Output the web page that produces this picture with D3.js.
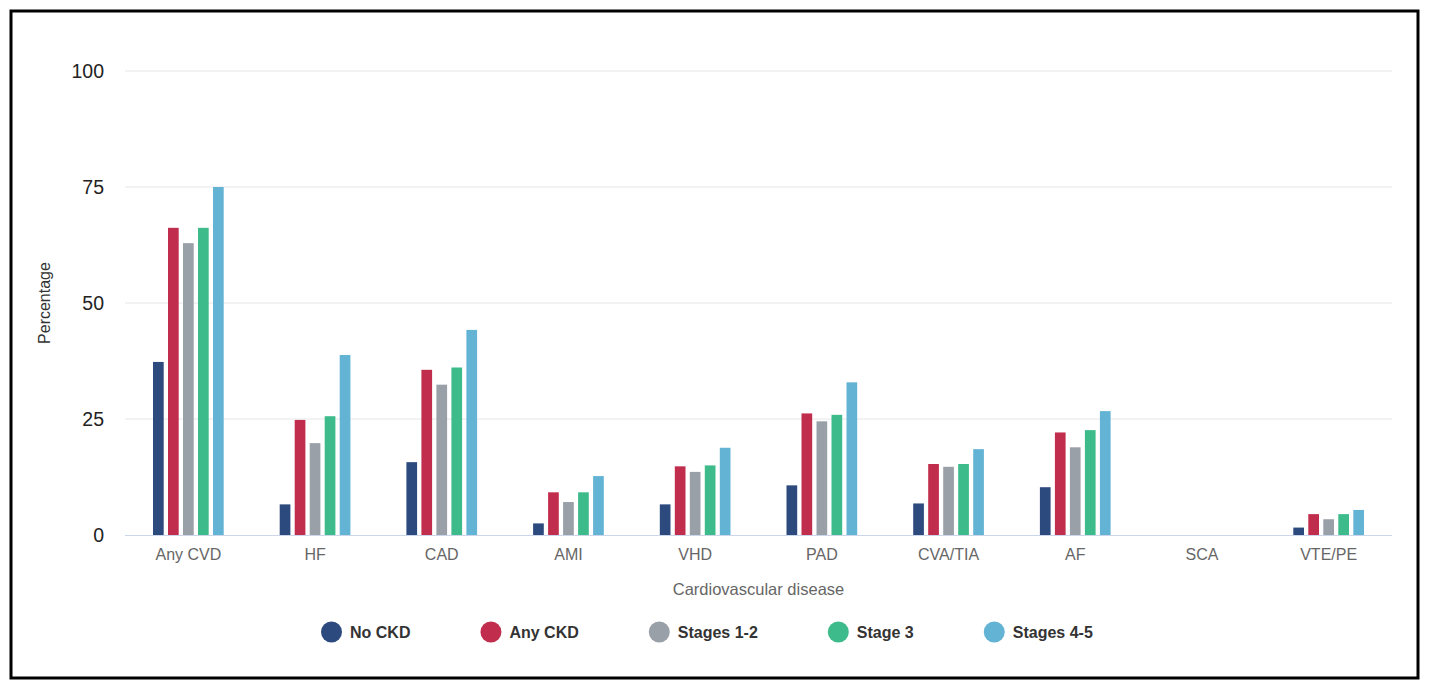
<!DOCTYPE html>
<html>
<head>
<meta charset="utf-8">
<script src="https://cdn.jsdelivr.net/npm/d3@7"></script>
<style>
  body { margin: 0; background: #fff; }
  svg { display: block; font-family: "Liberation Sans", Arial, sans-serif; }
</style>
</head>
<body>
<svg id="chart" width="1429" height="687"></svg>
<script>
// data
const categories = ["Any CVD", "HF", "CAD", "AMI", "VHD", "PAD", "CVA/TIA", "AF", "SCA", "VTE/PE"];
const seriesNames = ["No CKD", "Any CKD", "Stages 1-2", "Stage 3", "Stages 4-5"];
const seriesColors = ["#2d4a7e", "#c12d4d", "#9aa0a8", "#3dbb8b", "#62b3d4"];
const noCKD     = [37.3,  6.6, 15.7,  2.5,  6.6, 10.7,  6.8, 10.3, null, 1.6];
const anyCKD    = [66.2, 24.8, 35.6,  9.2, 14.8, 26.2, 15.3, 22.1, null, 4.5];
const stages12  = [62.9, 19.8, 32.4,  7.1, 13.6, 24.5, 14.7, 18.9, null, 3.4];
const stage3    = [66.2, 25.6, 36.1,  9.2, 15.0, 25.9, 15.3, 22.6, null, 4.5];
const stages45  = [75.0, 38.8, 44.2, 12.7, 18.8, 32.9, 18.5, 26.7, null, 5.4];
const yTicks = [0, 25, 50, 75, 100];

const seriesValues = [noCKD, anyCKD, stages12, stage3, stages45];

const svg = d3.select("#chart");

// outer frame
svg.append("rect")
  .attr("x", 11).attr("y", 11)
  .attr("width", 1407).attr("height", 667)
  .attr("fill", "none")
  .attr("stroke", "#000")
  .attr("stroke-width", 3);

const plot = { left: 125, right: 1392, top: 71, bottom: 535 };

const x0 = d3.scaleBand()
  .domain(categories)
  .range([plot.left, plot.right])
  .padding(0);

const groupW = 70.7;
const x1 = d3.scaleBand()
  .domain(seriesNames)
  .range([(x0.bandwidth() - groupW) / 2, (x0.bandwidth() + groupW) / 2])
  .paddingInner(0.287)
  .paddingOuter(0);

const y = d3.scaleLinear()
  .domain([0, 100])
  .range([plot.bottom, plot.top]);

// grid lines
svg.append("g")
  .selectAll("line")
  .data(yTicks.filter(d => d > 0))
  .join("line")
  .attr("x1", plot.left).attr("x2", plot.right)
  .attr("y1", d => y(d)).attr("y2", d => y(d))
  .attr("stroke", "#e6e6e6")
  .attr("stroke-width", 1);

// y axis labels
const yAxis = svg.append("g")
  .attr("transform", "translate(" + (plot.left - 21) + ",0)")
  .call(d3.axisLeft(y).tickValues(yTicks).tickSize(0).tickPadding(0));
yAxis.select(".domain").remove();
yAxis.selectAll("text")
  .attr("font-size", 19.5)
  .attr("fill", "#222")
  .attr("font-family", "Liberation Sans, Arial, sans-serif");

// bars
const groups = svg.append("g")
  .selectAll("g")
  .data(categories)
  .join("g")
  .attr("transform", d => "translate(" + x0(d) + ",0)");

groups.selectAll("rect")
  .data((c, i) => seriesNames.map((s, k) => ({ s: s, k: k, v: seriesValues[k][i] })).filter(d => d.v != null))
  .join("rect")
  .attr("x", d => x1(d.s))
  .attr("y", d => y(d.v))
  .attr("width", x1.bandwidth())
  .attr("height", d => y(0) - y(d.v))
  .attr("fill", d => seriesColors[d.k]);

// x axis
const xAxis = svg.append("g")
  .attr("transform", "translate(0," + plot.bottom + ")")
  .call(d3.axisBottom(x0).tickSize(0).tickPadding(14));
xAxis.select(".domain")
  .attr("stroke", "#ccd6eb")
  .attr("d", "M" + plot.left + ",0.5H" + plot.right);
xAxis.selectAll("text")
  .attr("font-size", 16)
  .attr("fill", "#666")
  .attr("font-family", "Liberation Sans, Arial, sans-serif");

// axis titles
svg.append("text")
  .attr("x", (plot.left + plot.right) / 2)
  .attr("y", 595)
  .attr("text-anchor", "middle")
  .attr("font-size", 16.5)
  .attr("fill", "#666")
  .text("Cardiovascular disease");

svg.append("text")
  .attr("transform", "translate(50,303) rotate(-90)")
  .attr("text-anchor", "middle")
  .attr("font-size", 16)
  .attr("fill", "#333")
  .text("Percentage");

// legend
const legend = svg.append("g");
let lx = 321;
seriesNames.forEach((name, k) => {
  const item = legend.append("g").attr("transform", "translate(" + lx + ",632)");
  item.append("circle")
    .attr("cx", 10.5).attr("cy", 0).attr("r", 10.5)
    .attr("fill", seriesColors[k]);
  const t = item.append("text")
    .attr("x", 29).attr("y", 6)
    .attr("font-size", 16)
    .attr("font-weight", "bold")
    .attr("fill", "#333")
    .text(name);
  lx += 29 + t.node().getComputedTextLength() + 70;
});
</script>
</body>
</html>
